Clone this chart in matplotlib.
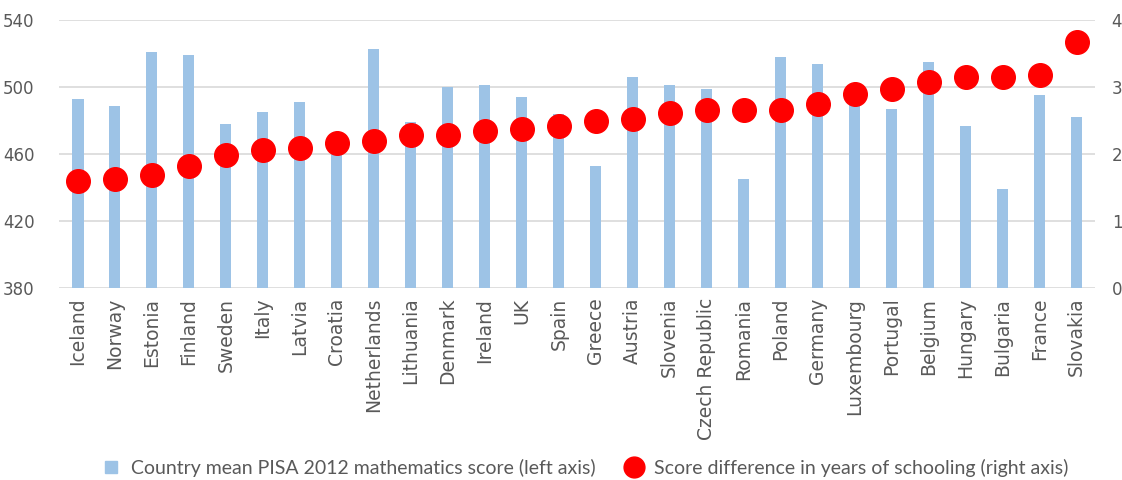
import numpy as np
from matplotlib import pyplot as plt
from matplotlib.lines import Line2D

plt.rcParams['font.family'] = ['Lato', 'DejaVu Sans']

countries = ['Iceland', 'Norway', 'Estonia', 'Finland', 'Sweden', 'Italy', 'Latvia',
             'Croatia', 'Netherlands', 'Lithuania', 'Denmark', 'Ireland', 'UK', 'Spain',
             'Greece', 'Austria', 'Slovenia', 'Czech Republic', 'Romania', 'Poland',
             'Germany', 'Luxembourg', 'Portugal', 'Belgium', 'Hungary', 'Bulgaria',
             'France', 'Slovakia']
pisa_score = [493, 489, 521, 519, 478, 485, 491, 471, 523, 479, 500, 501, 494, 484,
              453, 506, 501, 499, 445, 518, 514, 490, 487, 515, 477, 439, 495, 482]
years_diff = [1.60, 1.63, 1.69, 1.82, 1.99, 2.06, 2.09, 2.17, 2.20, 2.28, 2.28, 2.34,
              2.37, 2.42, 2.50, 2.53, 2.61, 2.66, 2.66, 2.66, 2.75, 2.89, 2.97, 3.07,
              3.15, 3.15, 3.18, 3.68]

BAR_COLOR = '#9dc3e6'
TXT = '#595959'

fig = plt.figure(figsize=(11.22, 4.8), dpi=100)
ax = fig.add_axes([0.053, 0.4, 0.923, 0.558])
x = np.arange(len(countries))
ax.bar(x, pisa_score, width=0.3, color=BAR_COLOR, zorder=2)
ax.set_ylim(380, 540)
ax.set_yticks([380, 420, 460, 500, 540])
ax.set_xlim(-0.5, len(countries) - 0.5)
ax.set_xticks(x)
ax.set_xticklabels(countries, rotation=90, fontsize=13.5, color=TXT, fontfamily='DejaVu Sans')
ax.tick_params(axis='y', labelsize=12, colors=TXT, length=0, pad=18)
ax.tick_params(axis='x', length=0, pad=7)
for lbl in ax.get_yticklabels():
    lbl.set_fontfamily('DejaVu Sans')
ax.grid(axis='y', color='#d9d9d9', linewidth=1.2, zorder=0)
for s in ax.spines.values():
    s.set_visible(False)

ax2 = ax.twinx()
ax2.plot(x, years_diff, 'o', color='#ff0000', markersize=17, zorder=3)
ax2.set_ylim(0, 4)
ax2.set_yticks([0, 1, 2, 3, 4])
ax2.tick_params(axis='y', labelsize=12, colors=TXT, length=0, pad=12)
for lbl in ax2.get_yticklabels():
    lbl.set_fontfamily('DejaVu Sans')
for s in ax2.spines.values():
    s.set_visible(False)

handles = [Line2D([], [], marker='s', linestyle='none', color=BAR_COLOR, markersize=9),
           Line2D([], [], marker='o', linestyle='none', color='#ff0000', markersize=15)]
labels = ['Country mean PISA 2012 mathematics score (left axis)',
          'Score difference in years of schooling (right axis)']
leg = fig.legend(handles, labels, loc='lower center', bbox_to_anchor=(0.517, -0.03),
                 ncol=2, frameon=False, fontsize=14, handletextpad=0.0, columnspacing=1.0)
for t in leg.get_texts():
    t.set_color(TXT)

fig.savefig('out.png', dpi=100)
